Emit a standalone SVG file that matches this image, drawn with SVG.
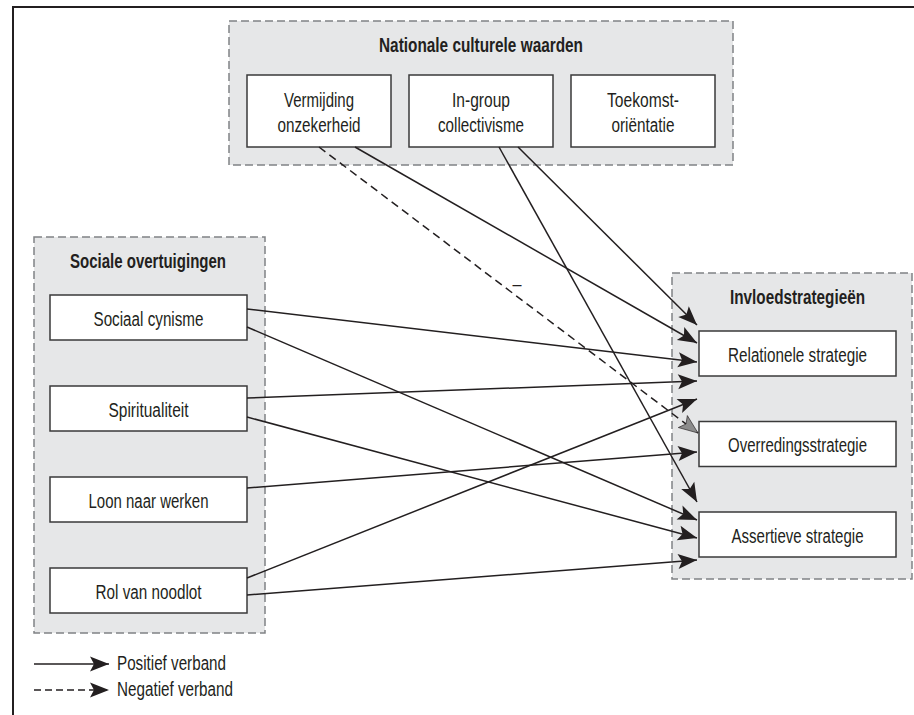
<svg xmlns="http://www.w3.org/2000/svg" width="914" height="715" viewBox="0 0 914 715">
<style>
.grp{fill:#e6e7e8;stroke:#808285;stroke-width:1.5;stroke-dasharray:8 4}
.box{fill:#fff;stroke:#3a3a3a;stroke-width:1.5}
.t{font-family:"Liberation Sans",Arial,sans-serif;font-size:20px;fill:#231f20;text-anchor:middle}
.h{font-weight:bold}
.l{text-anchor:start}
.c{stroke:#231f20;stroke-width:1.5;fill:none;marker-end:url(#ah)}
.d{stroke-dasharray:8 5;marker-end:url(#ahg)}
</style>
<defs>
<marker id="ah" markerUnits="userSpaceOnUse" markerWidth="22" markerHeight="18" viewBox="-21 -9 22 18" refX="0" refY="0" orient="auto"><path d="M0,0 L-19,-7.5 L-15,0 L-19,7.5 Z" fill="#231f20"/></marker>
<marker id="ahg" markerUnits="userSpaceOnUse" markerWidth="22" markerHeight="18" viewBox="-21 -9 22 18" refX="0" refY="0" orient="auto"><path d="M0,0 L-19,-7.5 L-15,0 L-19,7.5 Z" fill="#8c8c8c" stroke="#231f20" stroke-width="0.6"/></marker>
</defs>
<g id="frame" stroke="#231f20" stroke-width="2" fill="none">
<line x1="12" y1="7" x2="914" y2="7"/>
<line x1="13" y1="6" x2="13" y2="715"/>
</g>
<g id="nationale">
<rect class="grp" x="229" y="21" width="504" height="144"/>
<text class="t h" x="481" y="52" textLength="204" lengthAdjust="spacingAndGlyphs">Nationale culturele waarden</text>
</g>
<g id="vermijding">
<rect class="box" x="247" y="75" width="144" height="72"/>
<text class="t" x="319" y="107" textLength="70" lengthAdjust="spacingAndGlyphs">Vermijding</text>
<text class="t" x="319" y="132" textLength="83" lengthAdjust="spacingAndGlyphs">onzekerheid</text>
</g>
<g id="ingroup">
<rect class="box" x="409" y="75" width="144" height="72"/>
<text class="t" x="481" y="107" textLength="58" lengthAdjust="spacingAndGlyphs">In-group</text>
<text class="t" x="481" y="132" textLength="86" lengthAdjust="spacingAndGlyphs">collectivisme</text>
</g>
<g id="toekomst">
<rect class="box" x="571" y="75" width="144" height="72"/>
<text class="t" x="643" y="107" textLength="72" lengthAdjust="spacingAndGlyphs">Toekomst-</text>
<text class="t" x="643" y="132" textLength="63" lengthAdjust="spacingAndGlyphs">oriëntatie</text>
</g>
<g id="sociale">
<rect class="grp" x="34" y="237" width="231" height="396"/>
<text class="t h" x="148" y="268" textLength="156" lengthAdjust="spacingAndGlyphs">Sociale overtuigingen</text>
</g>
<g id="cynisme">
<rect class="box" x="50" y="295" width="197" height="45"/>
<text class="t" x="148.5" y="326" textLength="110" lengthAdjust="spacingAndGlyphs">Sociaal cynisme</text>
</g>
<g id="spiritualiteit">
<rect class="box" x="50" y="386" width="197" height="45"/>
<text class="t" x="148.5" y="417" textLength="80" lengthAdjust="spacingAndGlyphs">Spiritualiteit</text>
</g>
<g id="loon">
<rect class="box" x="50" y="477" width="197" height="45"/>
<text class="t" x="148.5" y="508" textLength="120" lengthAdjust="spacingAndGlyphs">Loon naar werken</text>
</g>
<g id="noodlot">
<rect class="box" x="50" y="568" width="197" height="45"/>
<text class="t" x="148.5" y="599" textLength="106" lengthAdjust="spacingAndGlyphs">Rol van noodlot</text>
</g>
<g id="invloed">
<rect class="grp" x="672" y="273" width="240" height="306"/>
<text class="t h" x="797.5" y="304" textLength="135" lengthAdjust="spacingAndGlyphs">Invloedstrategieën</text>
</g>
<g id="relationele">
<rect class="box" x="699" y="331" width="197" height="45"/>
<text class="t" x="797.5" y="362" textLength="139" lengthAdjust="spacingAndGlyphs">Relationele strategie</text>
</g>
<g id="overredings">
<rect class="box" x="699" y="421.5" width="197" height="45"/>
<text class="t" x="797.5" y="452" textLength="139" lengthAdjust="spacingAndGlyphs">Overredingsstrategie</text>
</g>
<g id="assertieve">
<rect class="box" x="699" y="512" width="197" height="45"/>
<text class="t" x="797.5" y="543" textLength="132" lengthAdjust="spacingAndGlyphs">Assertieve strategie</text>
</g>
<g id="connectors">
<line class="c" x1="355" y1="147" x2="697" y2="343"/>
<line class="c d" x1="319" y1="147" x2="698" y2="433"/>
<line class="c" x1="518" y1="147" x2="697" y2="325"/>
<line class="c" x1="499" y1="147" x2="697" y2="502"/>
<line class="c" x1="247" y1="309" x2="697" y2="362"/>
<line class="c" x1="247" y1="327" x2="697" y2="520"/>
<line class="c" x1="247" y1="398" x2="697" y2="381"/>
<line class="c" x1="247" y1="417" x2="697" y2="538"/>
<line class="c" x1="247" y1="488" x2="697" y2="452"/>
<line class="c" x1="247" y1="578" x2="697" y2="399"/>
<line class="c" x1="247" y1="595" x2="697" y2="560"/>
<text class="t" x="517" y="291" font-size="18" textLength="9" lengthAdjust="spacingAndGlyphs">–</text>
</g>
<g id="legend">
<line class="c" x1="34" y1="664" x2="109" y2="664"/>
<line class="c" x1="34" y1="690" x2="109" y2="690" stroke-dasharray="7 4"/>
<text class="t l" x="117" y="670" textLength="109" lengthAdjust="spacingAndGlyphs">Positief verband</text>
<text class="t l" x="117" y="696" textLength="116" lengthAdjust="spacingAndGlyphs">Negatief verband</text>
</g>
</svg>
